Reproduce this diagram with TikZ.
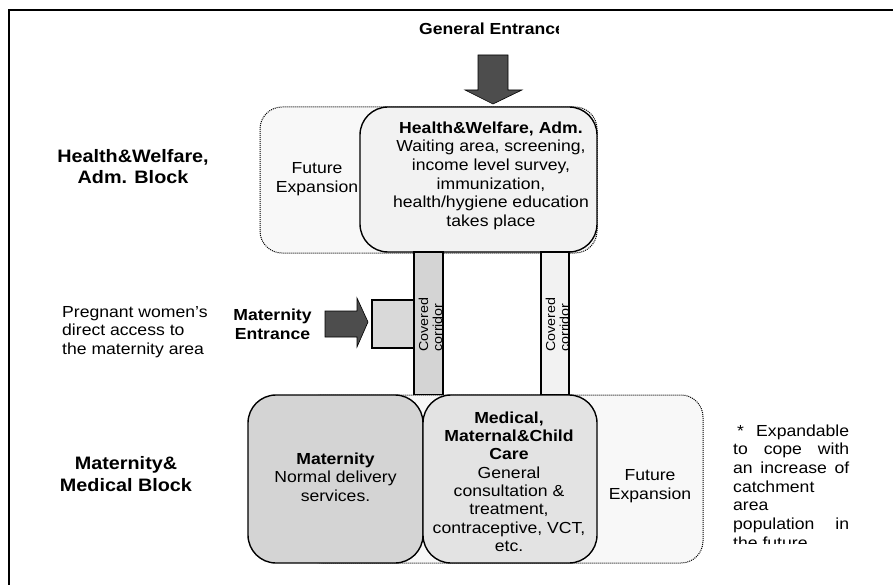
\documentclass[tikz,border=0pt]{standalone}
\usepackage{fontspec}
\setmainfont{Liberation Sans}[FakeStretch=1.1]
\definecolor{darkarrow}{HTML}{4D4D4D}
\definecolor{gmain}{HTML}{F2F2F2}
\definecolor{gdark}{HTML}{D4D4D4}
\definecolor{gmed}{HTML}{E3E3E3}
\definecolor{gdot}{HTML}{F8F8F8}
\definecolor{gsmall}{HTML}{D9D9D9}
\begin{document}
\begin{tikzpicture}[x=1pt,y=-1pt,
  dotbox/.style={draw=black, densely dotted, line width=1pt, fill=gdot, rounded corners=22pt},
  roombox/.style={draw=black, line width=1.4pt, rounded corners=28pt},
  corr/.style={draw=black, line width=1.4pt},
  arrowshape/.style={draw=black, line width=0.6pt, fill=darkarrow},
  lbl/.style={inner sep=0pt, align=center},
  corrtext/.style={rotate=90, anchor=north west, inner sep=0pt, align=left, font=\fontsize{13}{14}\selectfont},
]
\useasboundingbox (0,0) rectangle (893,585);
\draw[line width=1.6pt] (9,585) -- (9,10) -- (893,10);

% upper block
\path[dotbox] (260,107) rectangle (597,253);
\path[roombox, fill=gmain] (360,107) rectangle (597,252);

% corridors and entrance box
\path[corr, fill=gdark] (414,252) rectangle (443,395);
\path[corr, fill=gmain] (541,252) rectangle (569,395);
\path[corr, fill=gsmall] (372,300) rectangle (414,348);

% lower block
\path[dotbox] (300,395) rectangle (703,563);
\path[roombox, fill=gdark] (248,395) rectangle (423,563);
\path[roombox, fill=gmed] (423,395) rectangle (597,563);

% arrows
\path[arrowshape] (478,55) -- (508,55) -- (508,90) -- (522,90) -- (493,104) -- (465,90) -- (478,90) -- cycle;
\path[arrowshape] (325,311) -- (357,311) -- (357,298) -- (368,322) -- (357,347) -- (357,337) -- (325,337) -- cycle;

% corridor labels
\begin{scope}
\clip (414,252) rectangle (443,395);
\node[corrtext] (c1) at (418.5,352) {Covered\\corridor};
\end{scope}
\begin{scope}
\clip (541,252) rectangle (569,395);
\node[corrtext] (c2) at (545.5,352) {Covered\\corridor};
\end{scope}

% general entrance
\begin{scope}
\clip (0,0) rectangle (558,60);
\node[lbl, anchor=base west, font=\bfseries\fontsize{16}{18}\selectfont] (ge) at (419,35) {General Entrance};
\end{scope}

% left labels
\node[lbl, anchor=north, font=\bfseries\fontsize{18}{21}\selectfont] (hwlabel) at (133,147.3) {\strut Health\&Welfare,\\Adm. Block\strut};
\node[lbl, anchor=north, font=\bfseries\fontsize{18}{22}\selectfont] (mmlabel) at (126,453.6) {\strut Maternity\&\\Medical Block\strut};
\node[lbl, anchor=north west, align=left, font=\fontsize{16}{18.5}\selectfont] (preg) at (62,304) {\strut Pregnant women's\\direct access to\\the maternity area\strut};
\node[lbl, anchor=north, font=\bfseries\fontsize{16}{19}\selectfont] (mentr) at (272.5,306.7) {\strut Maternity\\Entrance\strut};

% box texts
\node[lbl, anchor=north, font=\fontsize{16}{18.6}\selectfont] (hw) at (491,120) {\strut\textbf{Health\&Welfare, Adm.}\\Waiting area, screening,\\income level survey,\\immunization,\\health/hygiene education\\takes place\strut};
\node[lbl, anchor=north, font=\fontsize{16}{19}\selectfont] (fe1) at (317,159.7) {\strut Future\\Expansion\strut};
\node[lbl, anchor=north, font=\fontsize{16}{18.5}\selectfont] (mat) at (335.5,451) {\strut\textbf{Maternity}\\Normal delivery\\services.\strut};
\node[lbl, anchor=north, font=\fontsize{16}{18.3}\selectfont] (med) at (509,410.2) {\strut\textbf{Medical,}\\\textbf{Maternal\&Child}\\\textbf{Care}\\General\\consultation \&\\treatment,\\contraceptive, VCT,\\etc.\strut};
\node[lbl, anchor=north, font=\fontsize{16}{19}\selectfont] (fe2) at (650,466.7) {\strut Future\\Expansion\strut};

% note
\begin{scope}
\clip (700,400) rectangle (893,543);
\node[lbl, anchor=north west, align=left, font=\fontsize{16}{18.7}\selectfont] (note) at (733,422.9) {\strut\makebox[116pt][s]{\hspace{4pt}* Expandable}\\\makebox[116pt][s]{to cope with}\\\makebox[116pt][s]{an increase of}\\catchment\\area\\\makebox[116pt][s]{population in}\\the future\strut};
\end{scope}
\end{tikzpicture}
\end{document}
